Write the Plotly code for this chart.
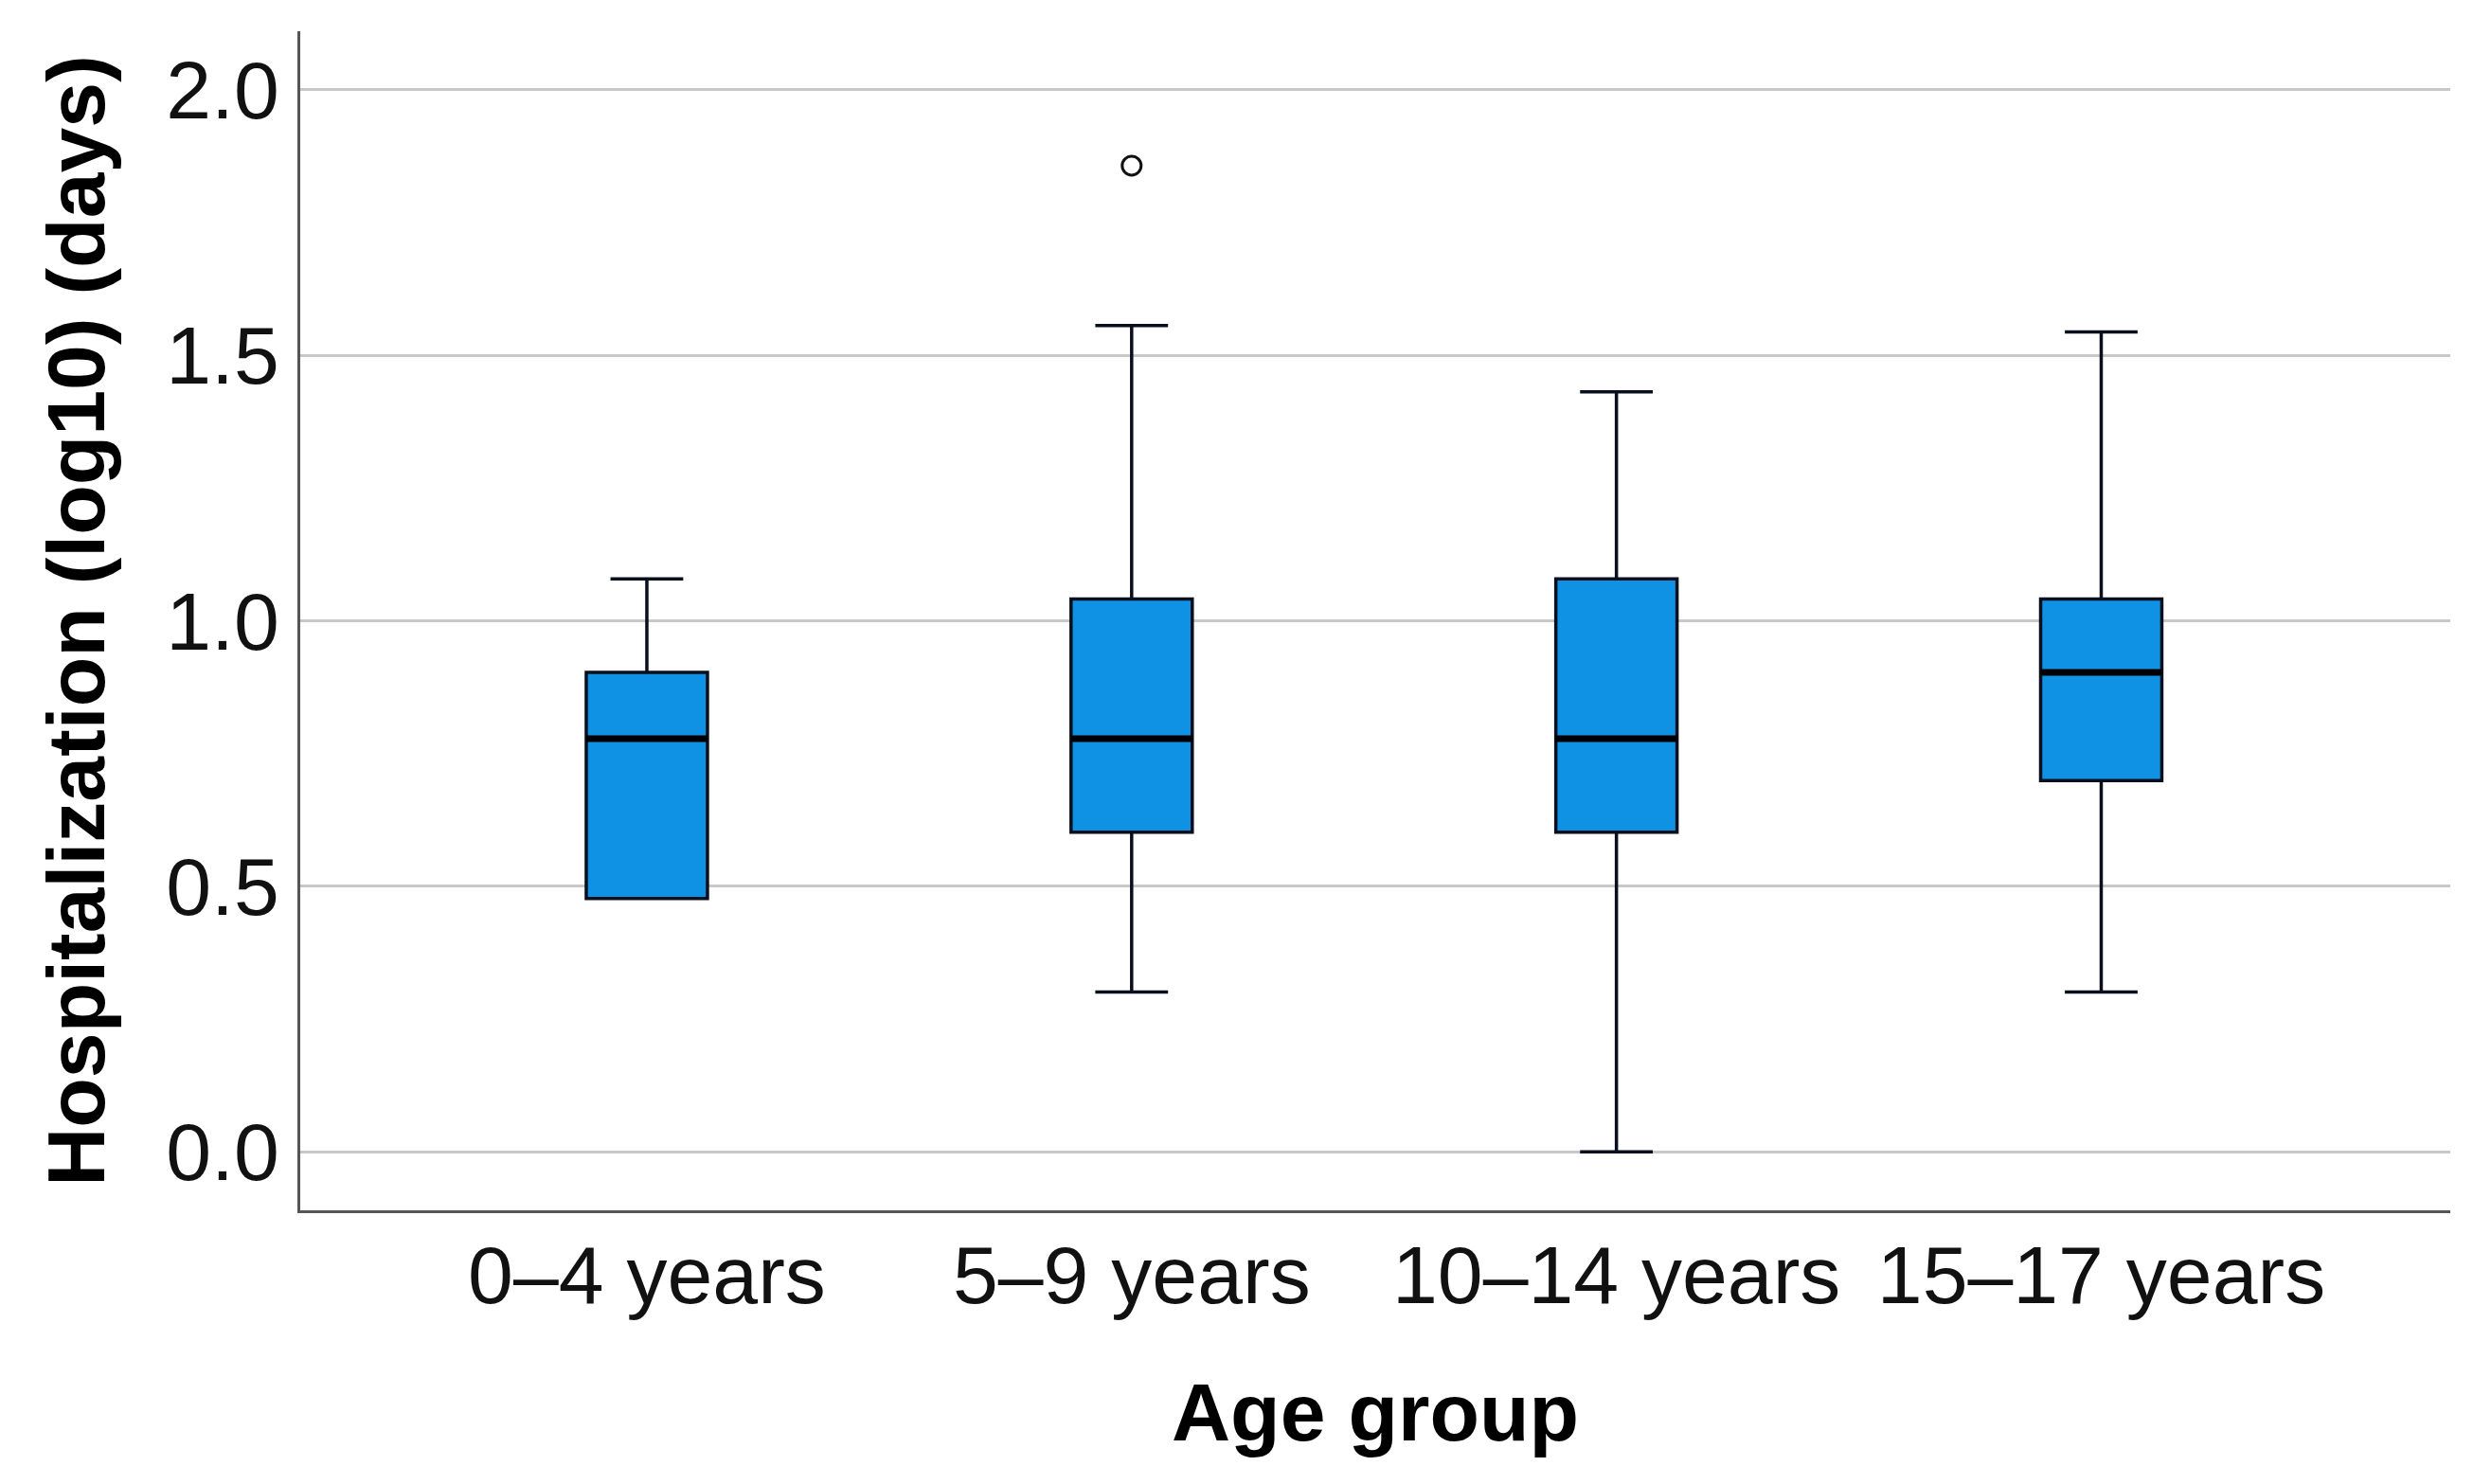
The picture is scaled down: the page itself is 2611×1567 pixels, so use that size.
import plotly.graph_objects as go

categories = ["0–4 years", "5–9 years", "10–14 years", "15–17 years"]
lower_whisker = [0.477, 0.301, 0.000, 0.301]
q1 = [0.477, 0.602, 0.602, 0.699]
median = [0.778, 0.778, 0.778, 0.903]
q3 = [0.903, 1.041, 1.079, 1.041]
upper_whisker = [1.079, 1.556, 1.431, 1.544]
outlier_group = [1]
outlier_value = [1.857]

positions = list(range(len(categories)))
box_width = 0.25
fill_color = "#0F92E4"
edge_color = "#0A0F1E"

fig = go.Figure()
fig.add_trace(go.Box(
    x=positions,
    q1=q1, median=median, q3=q3,
    lowerfence=lower_whisker, upperfence=upper_whisker,
    width=box_width,
    whiskerwidth=0.6,
    fillcolor=fill_color,
    line=dict(color=edge_color, width=3.5),
    boxpoints=False,
    showlegend=False,
    hoverinfo="skip",
))

# thick black median lines
for i, m in zip(positions, median):
    fig.add_trace(go.Scatter(
        x=[i - box_width / 2, i + box_width / 2], y=[m, m],
        mode="lines", line=dict(color="black", width=7),
        showlegend=False, hoverinfo="skip",
    ))

fig.add_trace(go.Scatter(
    x=outlier_group, y=outlier_value, mode="markers",
    marker=dict(symbol="circle-open", size=20, color="#111111",
                line=dict(width=3, color="#111111")),
    showlegend=False, hoverinfo="skip",
))

fig.update_layout(
    width=2611, height=1567,
    margin=dict(l=309, r=32, t=25, b=297),
    plot_bgcolor="white", paper_bgcolor="white",
    font=dict(family="Liberation Sans, Arial, sans-serif", color="#111111"),
)
fig.update_xaxes(
    range=[-0.715, 3.72],
    tickmode="array", tickvals=positions, ticktext=categories,
    tickfont=dict(size=86, color="#111111"),
    showgrid=False, zeroline=False,
    showline=True, linecolor="#555555", linewidth=3,
    ticks="", ticklabelstandoff=-8,
    title=dict(text="<b>Age group</b>", font=dict(size=86, color="#000000"), standoff=68),
)
fig.update_yaxes(
    range=[-0.11, 2.11],
    tickmode="array", tickvals=[0, 0.5, 1.0, 1.5, 2.0],
    ticktext=["0.0", "0.5", "1.0", "1.5", "2.0"],
    tickfont=dict(size=86, color="#111111"),
    showgrid=True, gridcolor="#c8c8c8", gridwidth=3,
    zeroline=False,
    showline=True, linecolor="#555555", linewidth=3,
    ticks="", ticklabelstandoff=2,
    title=dict(text="<b>Hospitalization (log10) (days)</b>", font=dict(size=86, color="#000000"), standoff=37),
)

fig.write_html("out.html")
